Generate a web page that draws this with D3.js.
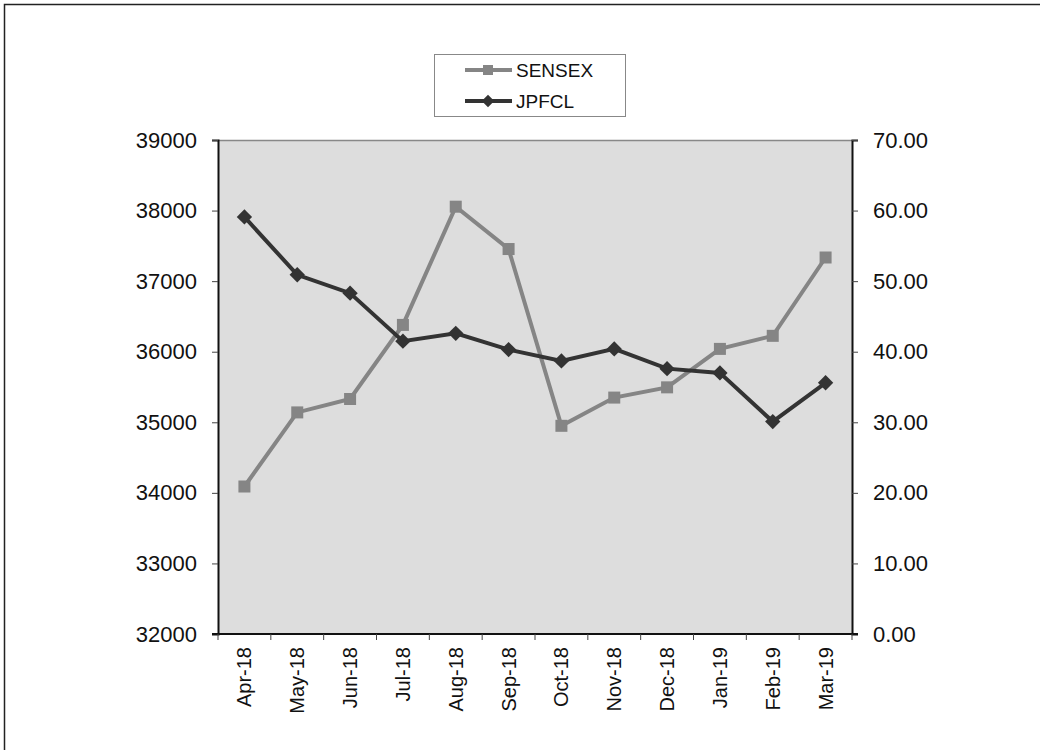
<!DOCTYPE html>
<html>
<head>
<meta charset="utf-8">
<script src="https://cdn.jsdelivr.net/npm/d3@7"></script>
<style>
  body { margin: 0; background: #fff; }
  text { font-family: "Liberation Sans", Arial, sans-serif; fill: #111; }
</style>
</head>
<body>
<div id="chart"></div>
<script>
// Data
var months = ['Apr-18', 'May-18', 'Jun-18', 'Jul-18', 'Aug-18', 'Sep-18',
  'Oct-18', 'Nov-18', 'Dec-18', 'Jan-19', 'Feb-19', 'Mar-19'];
var sensex = [34090, 35140, 35330, 36380, 38055, 37455, 34950, 35350, 35495, 36040, 36225, 37335];
var jpfcl = [59.1, 50.9, 48.3, 41.5, 42.6, 40.3, 38.7, 40.4, 37.6, 37.0, 30.1, 35.6];
var leftTicks = [32000, 33000, 34000, 35000, 36000, 37000, 38000, 39000];
var rightTicks = [0, 10, 20, 30, 40, 50, 60, 70];

var svgWidth = 1040;
var svgHeight = 750;
var margin = { top: 140, right: 188, bottom: 116, left: 218 };
var width = svgWidth - margin.left - margin.right;
var height = svgHeight - margin.top - margin.bottom;

var svg = d3.select('#chart').append('svg').attr('width', svgWidth).attr('height', svgHeight);

// outer frame (runs off the right and bottom edges)
svg.append('rect')
  .attr('x', 4.5).attr('y', 4.5)
  .attr('width', 1100).attr('height', 800)
  .attr('fill', 'none').attr('stroke', '#222').attr('stroke-width', 1.5);

var chartGroup = svg.append('g').attr('transform', `translate(${margin.left}, ${margin.top})`);

var x = d3.scaleBand().domain(months).range([0, width]);
var yLeft = d3.scaleLinear().domain([32000, 39000]).range([height, 0]);
var yRight = d3.scaleLinear().domain([0, 70]).range([height, 0]);

// plot area background
chartGroup.append('rect')
  .attr('width', width).attr('height', height)
  .attr('fill', '#dddddd');
chartGroup.append('line')
  .attr('x1', 0).attr('x2', width).attr('y1', 0.5).attr('y2', 0.5)
  .attr('stroke', '#888').attr('stroke-width', 1.5);

// left axis
var leftAxis = d3.axisLeft(yLeft).tickValues(leftTicks).tickSize(6).tickPadding(15).tickFormat(d3.format('d'));
var yAxisL = chartGroup.append('g').call(leftAxis);
yAxisL.select('.domain').attr('stroke', '#111').attr('stroke-width', 2);
yAxisL.selectAll('.tick line').attr('stroke', '#444');
yAxisL.selectAll('text').attr('font-size', '22px').style('font-family', '"Liberation Sans", Arial, sans-serif').attr('fill', '#111');

// right axis
var rightAxis = d3.axisRight(yRight).tickValues(rightTicks).tickSize(6).tickPadding(15).tickFormat(d3.format('.2f'));
var yAxisR = chartGroup.append('g').attr('transform', `translate(${width}, 0)`).call(rightAxis);
yAxisR.select('.domain').attr('stroke', '#111').attr('stroke-width', 2);
yAxisR.selectAll('.tick line').attr('stroke', '#444');
yAxisR.selectAll('text').attr('font-size', '22px').style('font-family', '"Liberation Sans", Arial, sans-serif').attr('fill', '#111');

// bottom axis: ticks at the band boundaries, labels rotated
var xAxis = chartGroup.append('g').attr('transform', `translate(0, ${height})`);
xAxis.append('line')
  .attr('x1', -6).attr('x2', width + 6).attr('y1', 0).attr('y2', 0)
  .attr('stroke', '#111').attr('stroke-width', 2);
xAxis.selectAll('.xtick')
  .data(d3.range(months.length + 1))
  .enter()
  .append('line')
  .attr('class', 'xtick')
  .attr('x1', (i) => i * x.step()).attr('x2', (i) => i * x.step())
  .attr('y1', 0).attr('y2', 6)
  .attr('stroke', '#444');
xAxis.selectAll('.xlabel')
  .data(months)
  .enter()
  .append('text')
  .attr('class', 'xlabel')
  .attr('transform', (d) => `translate(${x(d) + x.bandwidth() / 2 + 7}, 13) rotate(-90)`)
  .attr('text-anchor', 'end')
  .attr('font-size', '20px')
  .text((d) => d);

// lines
var sensexLine = d3.line().x((d, i) => x(months[i]) + x.bandwidth() / 2).y((d) => yLeft(d));
var jpfclLine = d3.line().x((d, i) => x(months[i]) + x.bandwidth() / 2).y((d) => yRight(d));

var grey = '#858585';
var dark = '#333333';

chartGroup.append('path').datum(sensex)
  .attr('d', sensexLine).attr('fill', 'none').attr('stroke', grey).attr('stroke-width', 4);
chartGroup.selectAll('.sensexPt')
  .data(sensex)
  .enter()
  .append('rect')
  .attr('class', 'sensexPt')
  .attr('x', (d, i) => x(months[i]) + x.bandwidth() / 2 - 6)
  .attr('y', (d) => yLeft(d) - 6)
  .attr('width', 12).attr('height', 12)
  .attr('fill', grey);

chartGroup.append('path').datum(jpfcl)
  .attr('d', jpfclLine).attr('fill', 'none').attr('stroke', dark).attr('stroke-width', 4);
var diamond = d3.symbol().type(d3.symbolDiamond2).size(150);
chartGroup.selectAll('.jpfclPt')
  .data(jpfcl)
  .enter()
  .append('path')
  .attr('class', 'jpfclPt')
  .attr('d', diamond)
  .attr('transform', (d, i) => `translate(${x(months[i]) + x.bandwidth() / 2}, ${yRight(d)})`)
  .attr('fill', dark);

// legend
var legend = svg.append('g');
legend.append('rect')
  .attr('x', 434.5).attr('y', 54.5).attr('width', 191).attr('height', 62)
  .attr('fill', '#fff').attr('stroke', '#888').attr('stroke-width', 1);
var legendItems = [
  { name: 'SENSEX', color: grey, y: 70, marker: 'square' },
  { name: 'JPFCL', color: dark, y: 101, marker: 'diamond' }
];
legendItems.forEach(function(item) {
  legend.append('line')
    .attr('x1', 465).attr('x2', 512).attr('y1', item.y).attr('y2', item.y)
    .attr('stroke', item.color).attr('stroke-width', 4);
  if (item.marker === 'square') {
    legend.append('rect')
      .attr('x', 483).attr('y', item.y - 5).attr('width', 10).attr('height', 10)
      .attr('fill', item.color);
  } else {
    legend.append('path')
      .attr('d', d3.symbol().type(d3.symbolDiamond2).size(100))
      .attr('transform', `translate(488, ${item.y})`)
      .attr('fill', item.color);
  }
  legend.append('text')
    .attr('x', 516).attr('y', item.y + 7)
    .attr('font-size', '19px')
    .text(item.name);
});
</script>
</body>
</html>
